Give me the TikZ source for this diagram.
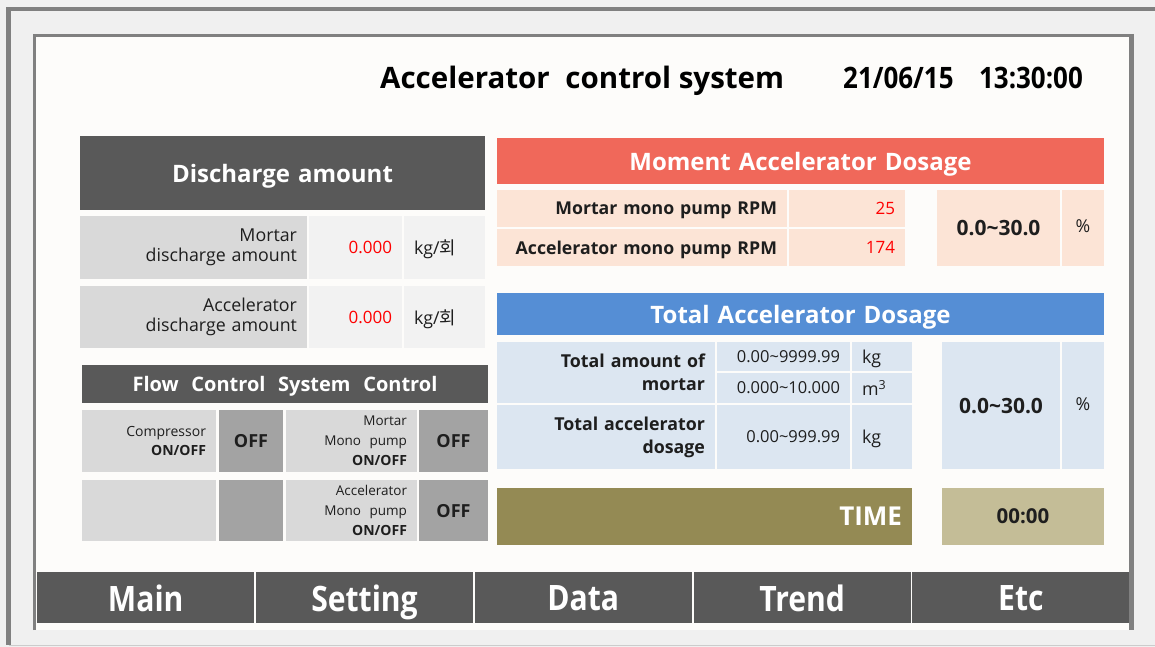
\documentclass[tikz,border=0pt]{standalone}
\usepackage{fontspec}
\usepackage{graphicx}
\setmainfont{Open Sans}
\newfontfamily\korfont{Noto Sans CJK KR}
\usetikzlibrary{positioning,calc}
\definecolor{cBg}    {RGB}{240,240,240}
\definecolor{cFrame} {RGB}{128,128,128}
\definecolor{cPanel} {RGB}{253,252,250}
\definecolor{cHead}  {RGB}{89,89,89}
\definecolor{cLbl}   {RGB}{217,217,217}
\definecolor{cVal}   {RGB}{242,242,242}
\definecolor{cOff}   {RGB}{163,163,163}
\definecolor{cMom}   {RGB}{240,104,90}
\definecolor{cMomL}  {RGB}{252,228,214}
\definecolor{cTot}   {RGB}{85,142,213}
\definecolor{cTotL}  {RGB}{220,230,241}
\definecolor{cTime}  {RGB}{148,138,84}
\definecolor{cTimeL} {RGB}{196,189,151}
\definecolor{cTxt}   {RGB}{30,30,30}
\tikzset{
  cellbase/.style={anchor=north west,inner xsep=10pt,inner ysep=0pt,outer sep=0pt,
               text=cTxt,font=\fontsize{17.8}{20}\selectfont},% for two/three-line labels
  cell/.style={cellbase,text depth=0pt},
  cellH/.style={cell,fill=cHead,text=white,align=center,
                font=\fontsize{24}{28}\selectfont\bfseries},% dark section header
  cellG/.style={cellbase,fill=cLbl,align=right},
  cellW/.style={cell,fill=cVal},
  cellO/.style={cell,fill=cOff,align=center,font=\fontsize{18}{20}\selectfont\bfseries},
  cellM/.style={cell,fill=cMomL},
  cellB/.style={cell,fill=cTotL},
  cellBm/.style={cellbase,fill=cTotL,align=right,font=\fontsize{17.8}{23}\selectfont\bfseries},
  redval/.style={cellW,align=right,text=red,font=\fontsize{17}{20}\selectfont},
  btn/.style={anchor=north west,fill=cHead,text=white,inner sep=0pt,text depth=0pt,
              font=\fontsize{35}{38}\selectfont\bfseries},
}
\newcommand{\rng}{\textasciitilde}

\begin{document}
\begin{tikzpicture}[x=1pt,y=-1pt]
  \useasboundingbox (0,0) rectangle (1155,647);
  \fill[cBg] (0,0) rectangle (1155,647);
  % outer and inner window frames
  \draw[cFrame,line width=4.5pt] (1160,9) -- (8.5,9) -- (8.5,645);
  \draw[black!20,line width=1.5pt] (8.5,645.5) -- (1160,645.5);
  \fill[cPanel] (35,36) rectangle (1130,630);
  \draw[cFrame,line width=3pt] (34.5,630) -- (34.5,35.5) -- (1131,35.5);
  \draw[cFrame,line width=5pt] (1131,34) -- (1131,630);

  \node[anchor=base west,inner sep=0pt,text=black,font=\fontsize{29.5}{32}\selectfont\bfseries] (title) at (380,89)
    {Accelerator\hspace{8pt} control system};
  \node[anchor=base east,inner sep=0pt,text=black,font=\fontsize{29.5}{32}\selectfont\bfseries] (clock) at (1083,89)
    {\scalebox{0.88}[1]{21/06/15\hspace{29pt}13:30:00}};

  \newcommand{\cb}[7]{%
    \pgfmathsetmacro\cw{#5-#3}\pgfmathsetmacro\ch{#6-#4}\pgfmathsetmacro\tw{#5-#3-20}%
    \node[#1,minimum width=\cw pt,minimum height=\ch pt,text width=\tw pt] (#2) at (#3,#4) {#7};}

  % discharge amount
  \cb{cellH}{dHead}{80}{136}{485}{210}{Discharge amount}
  \cb{cellG}{d1L}{80}{216}{307}{279}{Mortar\\discharge amount}
  \cb{redval}{d1V}{309}{216}{402}{279}{0.000}
  \cb{cellW}{d1U}{404}{216}{485}{279}{kg/{\korfont 회}}
  \cb{cellG}{d2L}{80}{286}{307}{348}{Accelerator\\discharge amount}
  \cb{redval}{d2V}{309}{286}{402}{348}{0.000}
  \cb{cellW}{d2U}{404}{286}{485}{348}{kg/{\korfont 회}}

  % flow control
  \cb{cellH,font=\fontsize{20}{24}\selectfont\bfseries}{fHead}{82}{365}{488}{403}
    {Flow\hspace{6pt} Control\hspace{6pt} System\hspace{6pt} Control}
  \cb{cellG,font=\fontsize{14}{19}\selectfont}{f1a}{82}{410}{216}{472}
    {Compressor\\{\fontsize{14}{19}\selectfont\bfseries ON/OFF}}
  \cb{cellO}{f1b}{219}{410}{283}{472}{OFF}
  \cb{cellG,font=\fontsize{13.5}{20}\selectfont}{f1c}{286}{410}{417}{472}
    {Mortar\\Mono\hspace{4pt} pump\\{\fontsize{14}{20}\selectfont\bfseries ON/OFF}}
  \cb{cellO}{f1d}{419}{410}{488}{472}{OFF}
  \cb{cellG}{f2a}{82}{480}{216}{541}{}
  \cb{cellO}{f2b}{219}{480}{283}{541}{}
  \cb{cellG,font=\fontsize{13.5}{20}\selectfont}{f2c}{286}{480}{417}{541}
    {Accelerator\\Mono\hspace{4pt} pump\\{\fontsize{14}{20}\selectfont\bfseries ON/OFF}}
  \cb{cellO}{f2d}{419}{480}{488}{541}{OFF}

  % moment accelerator dosage
  \cb{cellH,fill=cMom}{mHead}{497}{138}{1104}{184}{Moment Accelerator Dosage}
  \cb{cellM,align=right,font=\fontsize{17.7}{20}\selectfont\bfseries}{m1L}{497}{190}{787}{227}{Mortar mono pump RPM}
  \cb{cellM,align=right,text=red,font=\fontsize{17}{20}\selectfont}{m1V}{789}{190}{905}{227}{25}
  \cb{cellM,align=right,font=\fontsize{17.7}{20}\selectfont\bfseries}{m2L}{497}{229}{787}{266}{Accelerator mono pump RPM}
  \cb{cellM,align=right,text=red,font=\fontsize{17}{20}\selectfont}{m2V}{789}{229}{905}{266}{174}
  \cb{cellM,align=center,font=\fontsize{21}{24}\selectfont\bfseries}{mRng}{937}{190}{1060}{266}{0.0\rng30.0}
  \cb{cellM,align=center,inner xsep=0pt}{mPct}{1062}{190}{1104}{266}{\raisebox{3pt}{\%}}

  % total accelerator dosage
  \cb{cellH,fill=cTot}{tHead}{497}{293}{1104}{335}{Total Accelerator Dosage}
  \cb{cellBm}{t1L}{497}{342}{715}{403}{Total amount of\\mortar}
  \cb{cellB,align=right,font=\fontsize{16.5}{20}\selectfont}{t1V}{717}{342}{850}{371}{0.00\rng9999.99}
  \cb{cellB,align=left}{t1U}{852}{342}{912}{371}{kg}
  \cb{cellB,align=right,font=\fontsize{16.5}{20}\selectfont}{t2V}{717}{373}{850}{403}{0.000\rng10.000}
  \cb{cellB,align=left}{t2U}{852}{373}{912}{403}{m\textsuperscript{3}}
  \cb{cellBm}{t3L}{497}{405}{715}{469}{Total accelerator\\dosage}
  \cb{cellB,align=right,font=\fontsize{16.5}{20}\selectfont}{t3V}{717}{405}{850}{469}{0.00\rng999.99}
  \cb{cellB,align=left}{t3U}{852}{405}{912}{469}{kg}
  \cb{cellB,align=center,font=\fontsize{21}{24}\selectfont\bfseries}{tRng}{942}{342}{1060}{469}{0.0\rng30.0}
  \cb{cellB,align=center,inner xsep=0pt}{tPct}{1062}{342}{1104}{469}{\raisebox{3pt}{\%}}

  % timer
  \cb{cell,fill=cTime,align=right,text=white,font=\fontsize{26}{28}\selectfont\bfseries}{tmBar}{497}{488}{912}{545}{TIME}
  \cb{cell,fill=cTimeL,align=center,font=\fontsize{20.5}{22}\selectfont\bfseries}{tmVal}{942}{488}{1104}{545}{00:00}

  % menu buttons
  \foreach \t [count=\i from 0] in {Main,Setting,Data,Trend,Etc}{
    \pgfmathsetmacro\bx{36+\i*218.8}
    \node[btn,minimum width=217pt,minimum height=51pt] (btn\i) at (\bx+1,572)
      {\scalebox{0.86}[1]{\t}};
  }
\end{tikzpicture}
\end{document}
